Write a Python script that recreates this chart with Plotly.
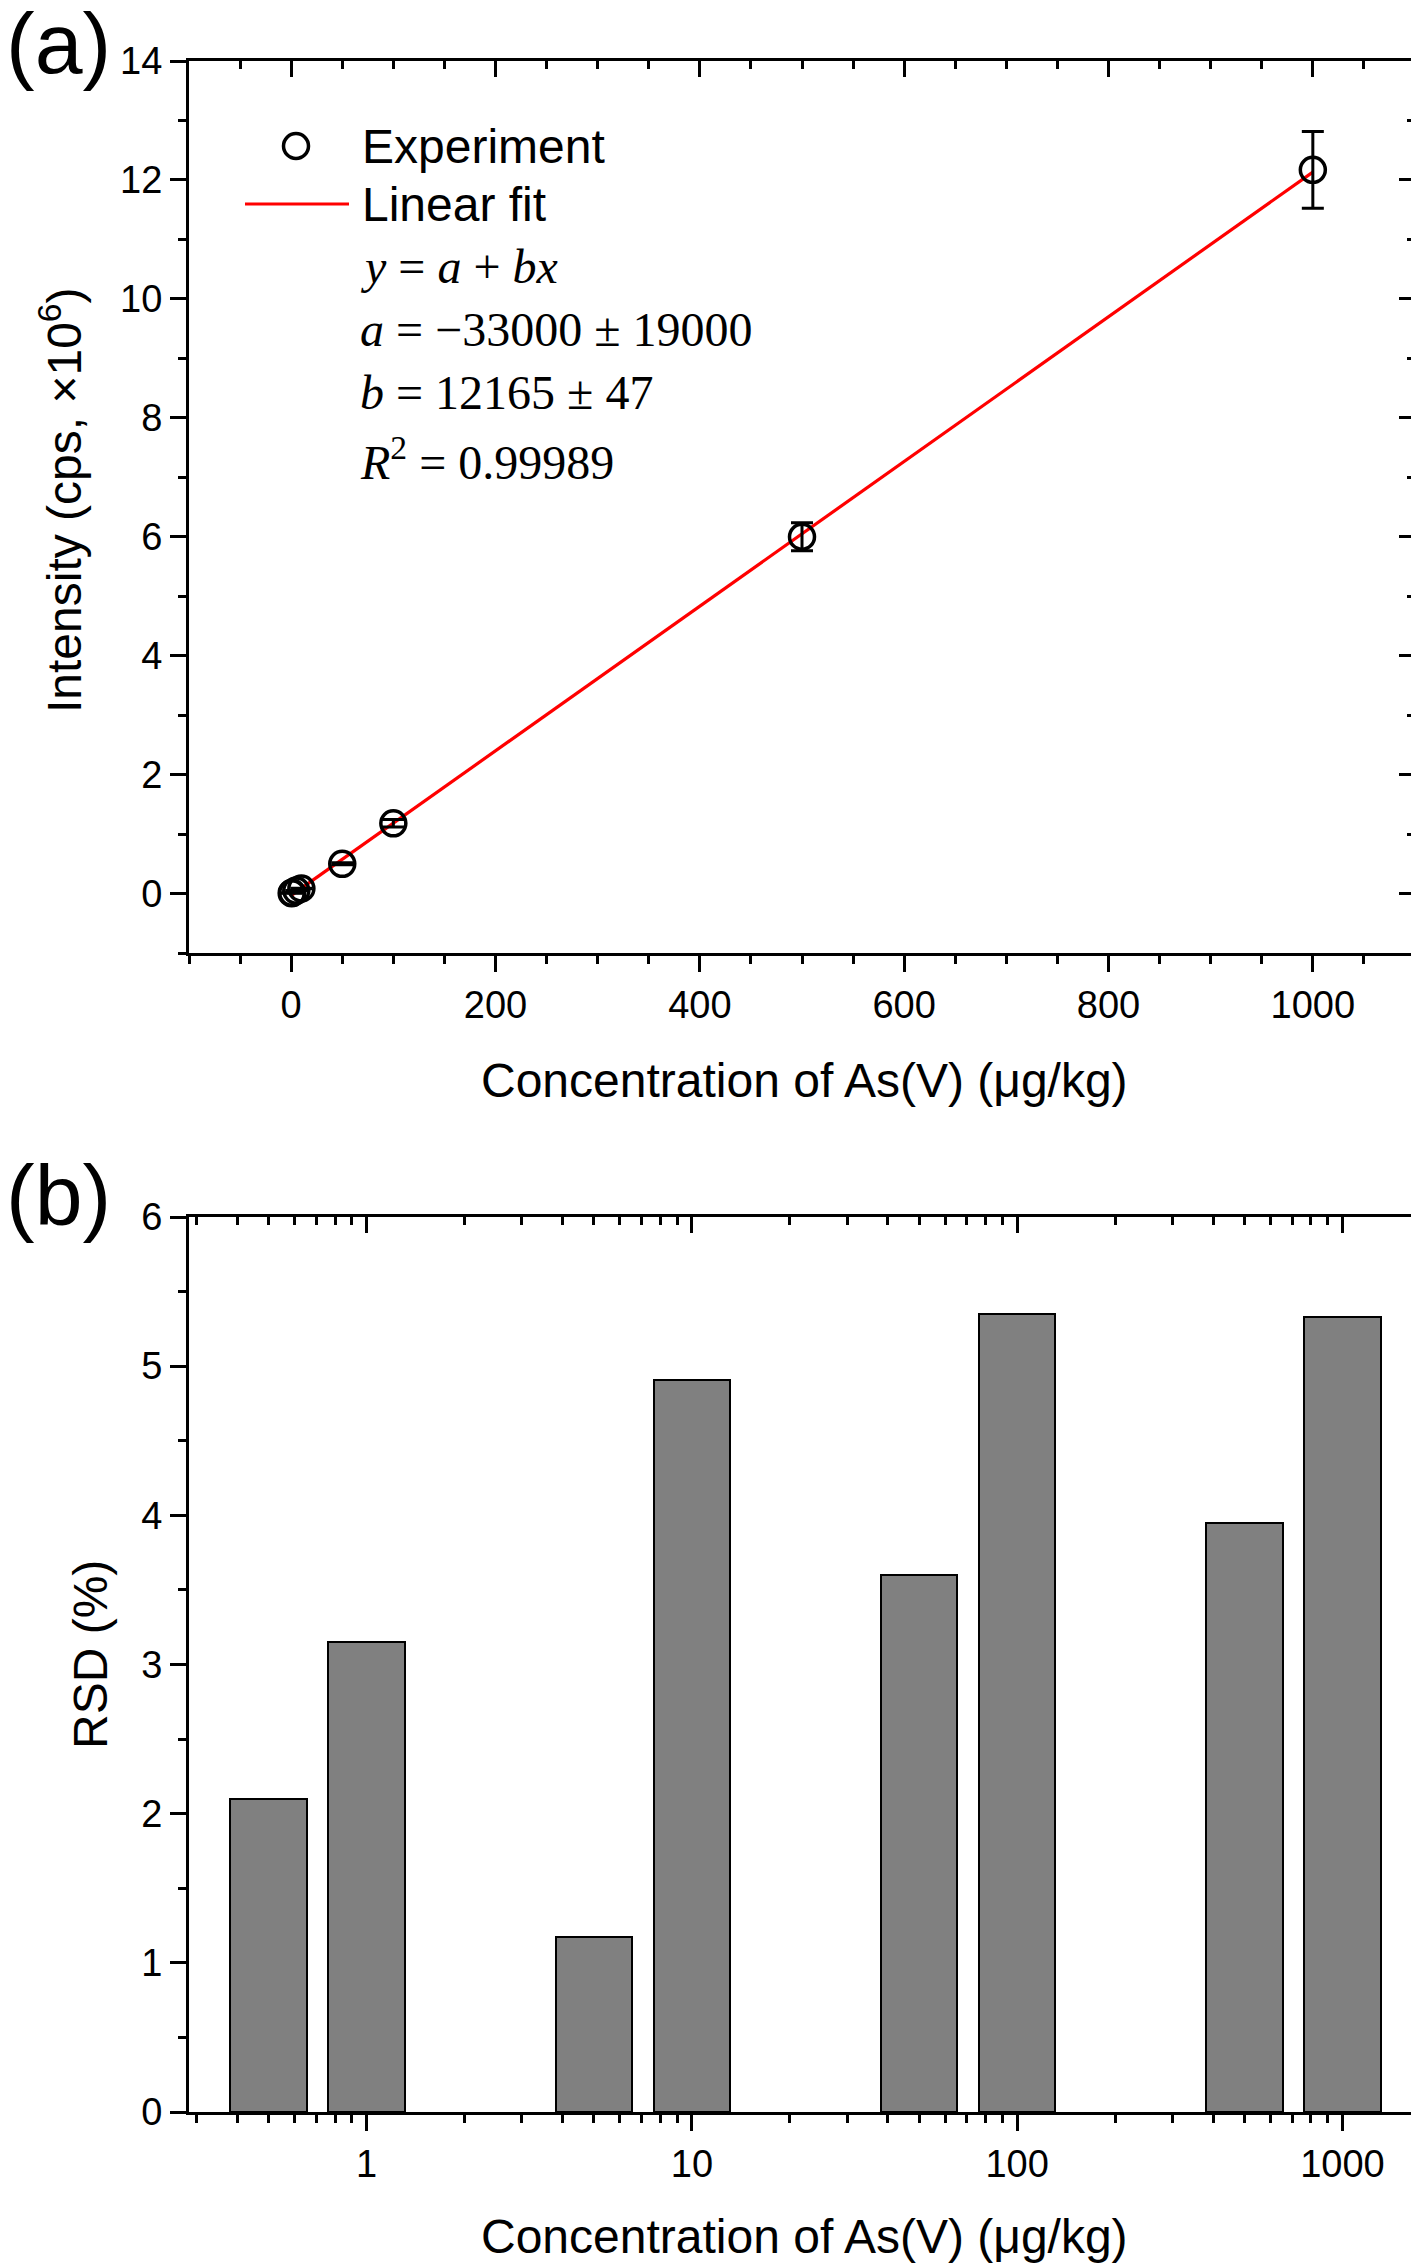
import numpy as np
import plotly.graph_objects as go

# ---------------- data ----------------
conc = [0.5, 1, 5, 10, 50, 100, 500, 1000]                      # µg/kg
intensity = [0.006, 0.012, 0.05, 0.085, 0.50, 1.18, 6.00, 12.17]  # cps x1e6
intensity_err = [0.0001, 0.0004, 0.0006, 0.004, 0.018, 0.063, 0.237, 0.645]
fit_x = [0.5, 1000]
fit_y = [-0.027, 12.132]
rsd = [2.10, 3.15, 1.17, 4.91, 3.60, 5.35, 3.95, 5.33]           # %
log_tick_vals = [1, 10, 100, 1000]
log_tick_text = ["1", "10", "100", "1000"]
log_minor_vals = [0.3, 0.4, 0.5, 0.6, 0.7, 0.8, 0.9,
                  2, 3, 4, 5, 6, 7, 8, 9,
                  20, 30, 40, 50, 60, 70, 80, 90,
                  200, 300, 400, 500, 600, 700, 800, 900]
legend_names = ["Experiment", "Linear fit"]
eq_lines = ["<i>y</i> = <i>a</i> + <i>bx</i>",
            "<i>a</i> = \u221233000 \u00b1 19000",
            "<i>b</i> = 12165 \u00b1 47",
            "<i>R</i><sup>2</sup> = 0.99989"]

# ---------------- geometry (page coords; page body has an 8px margin) ----------------
OFF = 8
W, H = 1419 - OFF, 2263 - OFF
L, R, T = 189 - OFF, 4, 61 - OFF
B = H - (2112 - OFF)
PW, PH = W - L - R, H - T - B


def px(x):
    return (x - OFF - L) / PW


def py(y):
    return (H - B - (y - OFF)) / PH


SANS = "Liberation Sans, Arial, sans-serif"
SERIF = "Liberation Serif, Times New Roman, serif"
TICKF = dict(family=SANS, size=38, color="black")

fig = go.Figure()

# panel (a)
fig.add_trace(go.Scatter(x=fit_x, y=fit_y, mode="lines",
                         line=dict(color="#ff0000", width=3.2),
                         showlegend=False, xaxis="x", yaxis="y"))
fig.add_trace(go.Scatter(x=conc, y=intensity, mode="markers",
                         marker=dict(symbol="circle-open", size=25, color="black",
                                     line=dict(width=3.5, color="black")),
                         error_y=dict(type="data", array=intensity_err, visible=True,
                                      color="black", thickness=3, width=11),
                         showlegend=False, xaxis="x", yaxis="y"))
fig.add_trace(go.Scatter(x=[None], y=[None], showlegend=False, xaxis="x3", yaxis="y3"))

# panel (b)
fig.add_trace(go.Bar(x=np.log10(conc), y=rsd, width=0.235,
                     marker=dict(color="#808080", line=dict(color="black", width=2)),
                     showlegend=False, xaxis="x2", yaxis="y2"))
fig.add_trace(go.Scatter(x=[None], y=[None], showlegend=False, xaxis="x4", yaxis="y4"))

common = dict(showgrid=False, zeroline=False, showline=True, linewidth=3,
              linecolor="black", tickwidth=2.5, tickcolor="black", tickfont=TICKF,
              automargin=False)

ya_dom = [py(953), 1.0]
yb_dom = [0.0, py(1217)]
MAJ, MIN = 16, 8

fig.update_layout(
    template="none",
    width=W, height=H, margin=dict(l=L, r=R, t=T, b=B, pad=0),
    paper_bgcolor="white", plot_bgcolor="white", showlegend=False,
    bargap=0,
    xaxis=dict(domain=[0, 1], anchor="y", range=[-100, 1100], tickmode="linear",
               tick0=0, dtick=200, ticks="outside", ticklen=MAJ,
               minor=dict(tick0=0, dtick=50, ticks="outside", ticklen=MIN,
                          tickwidth=2.5, tickcolor="black"),
               **common),
    xaxis3=dict(overlaying="x", anchor="y", side="top", range=[-100, 1100],
                tickmode="linear", tick0=0, dtick=200, ticks="inside", ticklen=MAJ,
                showticklabels=False,
                minor=dict(tick0=0, dtick=50, ticks="inside", ticklen=MIN,
                           tickwidth=2.5, tickcolor="black"),
                **common),
    yaxis=dict(domain=ya_dom, anchor="x", range=[-1, 14], tickmode="linear",
               tick0=0, dtick=2, ticks="outside", ticklen=MAJ,
               minor=dict(tick0=0, dtick=1, ticks="outside", ticklen=MIN,
                          tickwidth=2.5, tickcolor="black"),
               **common),
    yaxis3=dict(overlaying="y", anchor="x", side="right", range=[-1, 14],
                tickmode="linear", tick0=0, dtick=2, ticks="inside", ticklen=MAJ,
                showticklabels=False,
                minor=dict(tick0=0, dtick=1, ticks="inside", ticklen=MIN,
                           tickwidth=2.5, tickcolor="black"),
                **common),
    xaxis2=dict(domain=[0, 1], anchor="y2", range=[-0.546, 3.223],
                tickmode="array", tickvals=np.log10(log_tick_vals).tolist(),
                ticktext=log_tick_text, ticks="outside", ticklen=MAJ,
                minor=dict(tickmode="array", tickvals=np.log10(log_minor_vals).tolist(),
                           ticks="outside", ticklen=MIN, tickwidth=2.5, tickcolor="black"),
                **common),
    xaxis4=dict(overlaying="x2", anchor="y2", side="top", range=[-0.546, 3.223],
                tickmode="array", tickvals=np.log10(log_tick_vals).tolist(),
                ticks="inside", ticklen=MAJ, showticklabels=False,
                minor=dict(tickmode="array", tickvals=np.log10(log_minor_vals).tolist(),
                           ticks="inside", ticklen=MIN, tickwidth=2.5, tickcolor="black"),
                **common),
    yaxis2=dict(domain=yb_dom, anchor="x2", range=[0, 6], tickmode="linear",
                tick0=0, dtick=1, ticks="outside", ticklen=MAJ, mirror=True,
                minor=dict(tick0=0, dtick=0.5, ticks="outside", ticklen=MIN,
                           tickwidth=2.5, tickcolor="black"),
                **common),
    yaxis4=dict(overlaying="y2", anchor="x2", side="right", range=[0, 6],
                visible=False),
)

ann = []
TF = dict(family=SANS, size=48, color="black")
# axis titles
ann.append(dict(text="Concentration of As(V) (\u03bcg/kg)", x=px(804), y=py(1080),
                xref="paper", yref="paper", showarrow=False, font=TF,
                xanchor="center", yanchor="middle"))
ann.append(dict(text="Intensity (cps, \u00d710<sup>6</sup>)", x=px(61), y=py(500),
                xref="paper", yref="paper", showarrow=False, font=TF, textangle=-90,
                xanchor="center", yanchor="middle"))
ann.append(dict(text="RSD (%)", x=px(90), y=py(1655),
                xref="paper", yref="paper", showarrow=False, font=TF, textangle=-90,
                xanchor="center", yanchor="middle"))
ann.append(dict(text="Concentration of As(V) (\u03bcg/kg)", x=px(804), y=py(2236),
                xref="paper", yref="paper", showarrow=False, font=TF,
                xanchor="center", yanchor="middle"))
# panel labels
PF = dict(family=SANS, size=86, color="black")
ann.append(dict(text="(a)", x=px(58), y=py(43), xref="paper", yref="paper",
                showarrow=False, font=PF, xanchor="center", yanchor="middle"))
ann.append(dict(text="(b)", x=px(58), y=py(1195), xref="paper", yref="paper",
                showarrow=False, font=PF, xanchor="center", yanchor="middle"))
# legend texts
for name, yy in zip(legend_names, [146, 204]):
    ann.append(dict(text=name, x=px(360), y=py(yy), xref="paper", yref="paper",
                    showarrow=False, font=TF, xanchor="left", yanchor="middle"))
# equation
for line, yy in zip(eq_lines, [266, 329, 393, 459]):
    ann.append(dict(text=line, x=px(358), y=py(yy), xref="paper", yref="paper",
                    showarrow=False, font=dict(family=SERIF, size=48, color="black"),
                    xanchor="left", yanchor="middle"))
fig.update_layout(annotations=ann)

# legend glyphs
fig.add_shape(type="circle", xref="paper", yref="paper", xsizemode="pixel",
              ysizemode="pixel", xanchor=px(296), yanchor=py(146),
              x0=-12.5, x1=12.5, y0=-12.5, y1=12.5, line=dict(color="black", width=3.5))
fig.add_shape(type="line", xref="paper", yref="paper",
              x0=px(245), x1=px(349), y0=py(204), y1=py(204),
              line=dict(color="#ff0000", width=3.2))

fig.write_html("out.html")
